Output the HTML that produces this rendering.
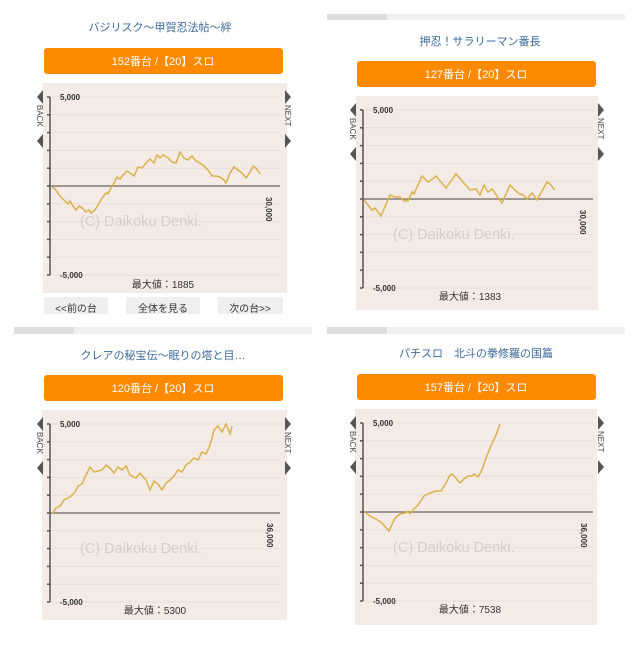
<!DOCTYPE html>
<html><head><meta charset="utf-8"><style>
body{margin:0;background:#fff}
svg text{font-family:"Liberation Sans","Noto Sans CJK JP",sans-serif}
</style></head><body>
<svg width="640" height="640" viewBox="0 0 640 640" xmlns="http://www.w3.org/2000/svg">
<rect width="640" height="640" fill="#fff"/>
<defs>
<g id="grid">
<g stroke="#e8dfda" stroke-width="1">
<line x1="0" y1="0" x2="230" y2="0"/><line x1="0" y1="17.8" x2="230" y2="17.8"/><line x1="0" y1="35.6" x2="230" y2="35.6"/><line x1="0" y1="53.4" x2="230" y2="53.4"/><line x1="0" y1="71.2" x2="230" y2="71.2"/><line x1="0" y1="106.8" x2="230" y2="106.8"/><line x1="0" y1="124.6" x2="230" y2="124.6"/><line x1="0" y1="142.4" x2="230" y2="142.4"/><line x1="0" y1="160.2" x2="230" y2="160.2"/><line x1="0" y1="178" x2="230" y2="178"/>
</g>
<line x1="0" y1="89" x2="230" y2="89" stroke="#6e6460" stroke-width="1.2"/>
<line x1="0" y1="0" x2="0" y2="178" stroke="#555" stroke-width="1.5"/>
<g stroke="#555" stroke-width="1.5">
<line x1="-3" y1="0" x2="0" y2="0"/><line x1="-3" y1="17.8" x2="0" y2="17.8"/><line x1="-3" y1="35.6" x2="0" y2="35.6"/><line x1="-3" y1="53.4" x2="0" y2="53.4"/><line x1="-3" y1="71.2" x2="0" y2="71.2"/><line x1="-3" y1="89" x2="0" y2="89"/><line x1="-3" y1="106.8" x2="0" y2="106.8"/><line x1="-3" y1="124.6" x2="0" y2="124.6"/><line x1="-3" y1="142.4" x2="0" y2="142.4"/><line x1="-3" y1="160.2" x2="0" y2="160.2"/><line x1="-3" y1="178" x2="0" y2="178"/>
</g>
<text x="10" y="3" font-size="8" font-weight="bold" fill="#333">5,000</text>
<text x="10" y="181" font-size="8" font-weight="bold" fill="#333">-5,000</text>
<text x="30" y="129" font-size="14.5" fill="#d6ccc8">(C) Daikoku Denki.</text>
<polygon points="-13,0 -7,-7 -7,7" fill="#555"/>
<polygon points="-13,44 -7,37 -7,51" fill="#555"/>
<text transform="translate(-13,8) rotate(90)" font-size="8" fill="#444">BACK</text>
<polygon points="241,0 235,-7 235,7" fill="#555"/>
<polygon points="241,44 235,37 235,51" fill="#555"/>
<text transform="translate(235,8) rotate(90)" font-size="8" fill="#444">NEXT</text>
</g>
</defs>

<!-- TL -->
<text x="160" y="31" font-size="11" fill="#3d6a99" text-anchor="middle">バジリスク～甲賀忍法帖～絆</text>
<rect x="44" y="48" width="239" height="26" rx="3" fill="#ff8a00"/>
<text x="163" y="65" font-size="11" fill="#fff" text-anchor="middle">152番台 /【20】スロ</text>
<rect x="43" y="83" width="244" height="210" fill="#f4ebe7"/>
<g transform="translate(50,97)"><use href="#grid"/></g>
<text transform="translate(266,197) rotate(90)" font-size="8" font-weight="bold" fill="#333">30,000</text>
<text x="163" y="288" font-size="10" fill="#333" text-anchor="middle">最大値：1885</text>
<polyline fill="none" stroke="#d9b24a" stroke-width="1.5" points="52,187 55,189 60,196 65,201 68,204 70,201 73,206 76,210 79,206 82,208 86,212 89,210 91,213 95,210 98,205 102,198 106,193 108,194 112,186 114,183 117,177 120,179 123,175 127,171 130,173 134,176 138,167 142,168 146,163 150,159 154,163 157,155 160,158 163,155 168,158 172,162 176,163 180,152 184,158 188,160 192,156 196,161 200,163 204,166 208,170 212,176 216,176 220,177 224,180 226,183 230,173 234,167 238,170 242,173 246,178 250,172 253,166 256,168 260,174"/>
<g font-size="10" fill="#333" text-anchor="middle">
<rect x="44" y="297" width="64" height="18" fill="#efefef"/><text x="76" y="312">&lt;&lt;前の台</text>
<rect x="126" y="297" width="74" height="18" fill="#efefef"/><text x="163" y="312">全体を見る</text>
<rect x="218" y="297" width="65" height="18" fill="#efefef"/><text x="250" y="312">次の台&gt;&gt;</text>
</g>
<rect x="0" y="314" width="320" height="6" fill="#fff"/>

<!-- TR -->
<rect x="327" y="14" width="298" height="6" fill="#f0f0f0"/><rect x="327" y="14" width="60" height="6" fill="#dedede"/>
<text x="480" y="45" font-size="11" fill="#3d6a99" text-anchor="middle">押忍！サラリーマン番長</text>
<rect x="357" y="61" width="239" height="26" rx="3" fill="#ff8a00"/>
<text x="476" y="78" font-size="11" fill="#fff" text-anchor="middle">127番台 /【20】スロ</text>
<rect x="356" y="96" width="242" height="214" fill="#f4ebe7"/>
<g transform="translate(363,110)"><use href="#grid"/></g>
<text transform="translate(580,210) rotate(90)" font-size="8" font-weight="bold" fill="#333">30,000</text>
<text x="470" y="300" font-size="10" fill="#333" text-anchor="middle">最大値：1383</text>
<polyline fill="none" stroke="#d9b24a" stroke-width="1.5" points="364,200 372,210 375,208 381,216 390,195 395,197 400,197 404,201 408,201 412,192 414,194 422,176 428,182 430,181 436,176 446,188 456,174 470,190 476,189 480,195 484,185 488,192 492,189 502,203 510,185 518,193 523,195 527,199 532,193 537,200 547,182 550,184 555,190"/>

<!-- BL -->
<rect x="14" y="327" width="298" height="7" fill="#f0f0f0"/><rect x="14" y="327" width="60" height="7" fill="#dedede"/>
<text x="163" y="359" font-size="11" fill="#3d6a99" text-anchor="middle">クレアの秘宝伝～眠りの塔と目…</text>
<rect x="44" y="375" width="239" height="26" rx="3" fill="#ff8a00"/>
<text x="163" y="392" font-size="11" fill="#fff" text-anchor="middle">120番台 /【20】スロ</text>
<rect x="42" y="410" width="245" height="210" fill="#f4ebe7"/>
<g transform="translate(50,424)"><use href="#grid"/></g>
<text transform="translate(267,523) rotate(90)" font-size="8" font-weight="bold" fill="#333">36,000</text>
<text x="155" y="614" font-size="10" fill="#333" text-anchor="middle">最大値：5300</text>
<polyline fill="none" stroke="#d9b24a" stroke-width="1.5" points="52,514 56,508 60,506 64,500 70,497 75,492 78,486 82,484 86,475 90,467 94,472 98,471 102,470 106,465 110,468 114,473 118,467 122,470 126,466 130,475 136,478 140,473 146,480 150,490 154,481 158,484 162,490 166,483 170,480 174,476 178,470 182,472 186,465 190,462 194,458 198,460 202,452 206,454 210,445 212,438 214,430 218,426 222,432 226,424 230,434 232,426"/>

<!-- BR -->
<rect x="327" y="327" width="298" height="7" fill="#f0f0f0"/><rect x="327" y="327" width="60" height="7" fill="#dedede"/>
<text x="476" y="357" font-size="11" fill="#3d6a99" text-anchor="middle">パチスロ　北斗の拳修羅の国篇</text>
<rect x="357" y="374" width="239" height="26" rx="3" fill="#ff8a00"/>
<text x="476" y="391" font-size="11" fill="#fff" text-anchor="middle">157番台 /【20】スロ</text>
<rect x="355" y="409" width="242" height="216" fill="#f4ebe7"/>
<g transform="translate(363,423)"><use href="#grid"/></g>
<text transform="translate(581,523) rotate(90)" font-size="8" font-weight="bold" fill="#333">36,000</text>
<text x="470" y="613" font-size="10" fill="#333" text-anchor="middle">最大値：7538</text>
<polyline fill="none" stroke="#d9b24a" stroke-width="1.5" points="365,512 370,516 376,519 382,523 389,531 395,518 400,514 405,513 408,511 410,514 413,510 418,505 424,496 430,493 436,491 441,491 446,483 450,475 452,474 456,478 460,483 464,479 468,476 472,476 474,474 478,477 482,470 486,458 490,448 496,435 500,424"/>
</svg>
</body></html>
